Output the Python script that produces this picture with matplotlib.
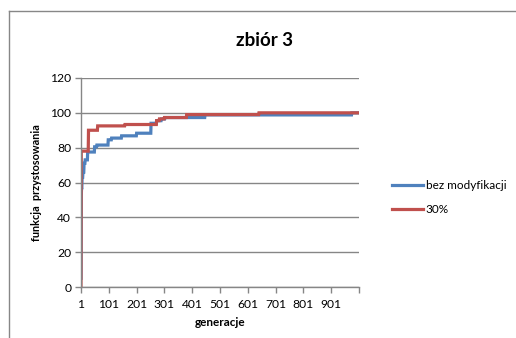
import numpy as np
import matplotlib
matplotlib.use("Agg")
import matplotlib.pyplot as plt
from matplotlib.lines import Line2D

# Best fitness per generation, given as (first generation, value) steps
blue_steps_gen = [1, 2, 3, 5, 8, 12, 16, 25, 50, 58, 99, 111, 147, 201, 253, 273, 290, 303, 447, 975]
blue_steps_val = [5, 52, 57, 63, 66, 71, 73, 77.5, 80.5, 81.5, 84.5, 85.5, 86.8, 88.3, 94, 95.5, 96.5, 97.3, 98.8, 100]

red_steps_gen = [1, 2, 28, 61, 159, 273, 283, 301, 381, 641]
red_steps_val = [0, 78, 90, 92.5, 93.3, 95.5, 96.5, 97.3, 99, 100]

n_generations = 1000
series_names = ["bez modyfikacji", "30%"]
series_colors = ["#4F81BD", "#C0504D"]
x_tick_values = list(range(1, 1002, 100))
x_tick_labels = [str(v) for v in range(1, 1000, 100)] + [""]
y_tick_values = list(range(0, 121, 20))


def hold_steps(starts, values, n):
    out = np.empty(n)
    bounds = list(starts[1:]) + [n + 1]
    for s, e, v in zip(starts, bounds, values):
        out[s - 1:e - 1] = v
    return out


gens = np.arange(1, n_generations + 1)
blue = hold_steps(blue_steps_gen, blue_steps_val, n_generations)
red = hold_steps(red_steps_gen, red_steps_val, n_generations)

plt.rcParams["font.family"] = ["Lato", "DejaVu Sans"]

fig = plt.figure(figsize=(5.16, 3.38), dpi=100)
fig.patch.set_facecolor("white")

# outer chart frame (top and left edges visible)
frame_color = "#878787"
fig.add_artist(Line2D([9 / 516, 1.0], [1 - 11 / 338, 1 - 11 / 338], transform=fig.transFigure,
                      color=frame_color, lw=1.0))
fig.add_artist(Line2D([9 / 516, 9 / 516], [0.0, 1 - 11 / 338], transform=fig.transFigure,
                      color=frame_color, lw=1.0))

ax = fig.add_axes([81 / 516, 1 - 287 / 338, (359 - 81) / 516, (287 - 78) / 338])
ax.plot(gens, blue, color=series_colors[0], lw=2.3, label=series_names[0], solid_joinstyle="miter")
ax.plot(gens, red, color=series_colors[1], lw=2.3, label=series_names[1], solid_joinstyle="miter")

ax.set_xlim(1, 1001)
ax.set_ylim(0, 120)
ax.set_yticks(y_tick_values)
ax.set_xticks(x_tick_values)
ax.set_xticklabels(x_tick_labels)
ax.grid(axis="y", color="#868686", lw=1.0)
ax.set_axisbelow(True)

for side in ["top", "right"]:
    ax.spines[side].set_visible(False)
for side in ["left", "bottom"]:
    ax.spines[side].set_color("#868686")
    ax.spines[side].set_linewidth(1.0)

ax.tick_params(axis="both", colors="#868686", labelcolor="black", labelsize=8.7,
               length=4, width=1.0, direction="out")
ax.tick_params(axis="x", pad=5)
ax.tick_params(axis="y", pad=3)

ax.set_xlabel("generacje", fontsize=8.5, fontweight="bold", labelpad=5)
ax.set_ylabel("funkcja  przystosowania", fontsize=7.8, fontweight="bold", labelpad=6)

fig.text(265 / 516, 1 - 41 / 338, "zbiór 3", ha="center", va="center",
         fontsize=13.5, fontweight="bold")

leg = ax.legend(loc="center left", bbox_to_anchor=(1.08, 0.428), frameon=False,
                fontsize=8.5, handlelength=2.6, handletextpad=0.25, labelspacing=1.05)

fig.savefig("out.png", dpi=100, facecolor="white")
